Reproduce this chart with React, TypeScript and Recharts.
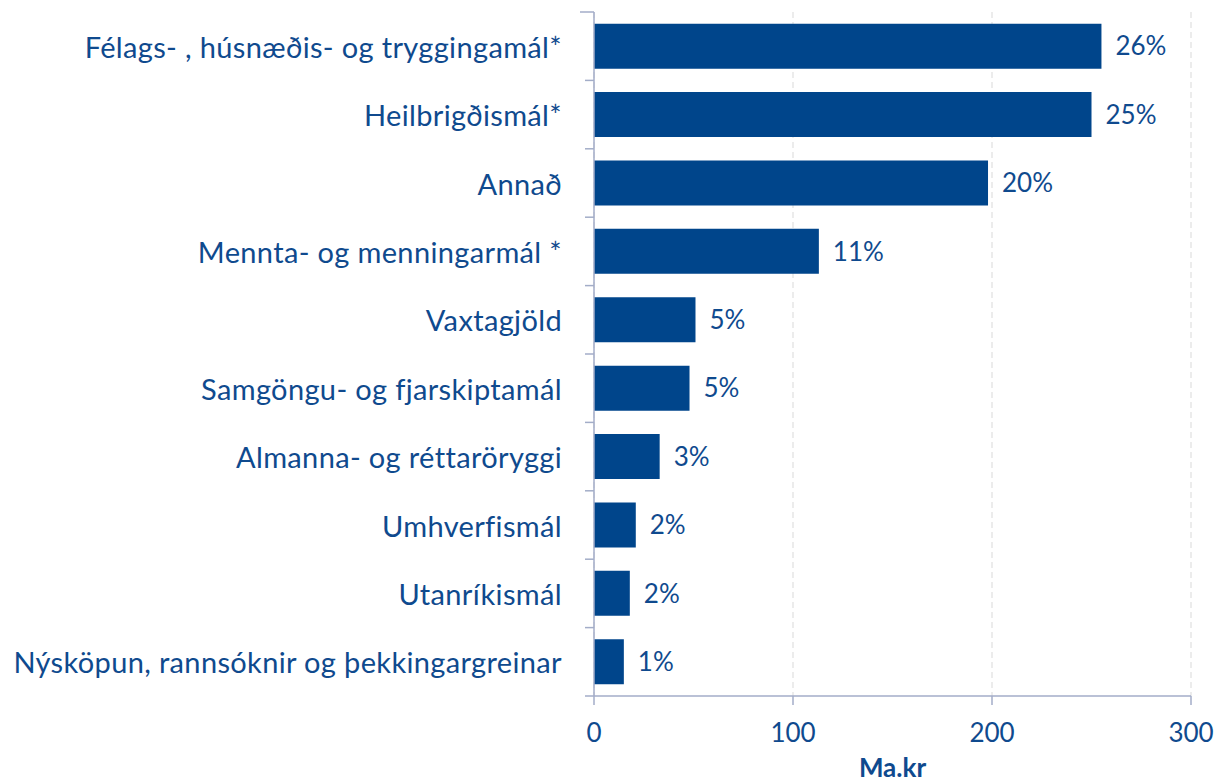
import React from "react";
import { BarChart, Bar, XAxis, YAxis, CartesianGrid, LabelList, Label } from "recharts";

const categories = [
  "Félags- , húsnæðis- og tryggingamál*",
  "Heilbrigðismál*",
  "Annað",
  "Mennta- og menningarmál *",
  "Vaxtagjöld",
  "Samgöngu- og fjarskiptamál",
  "Almanna- og réttaröryggi",
  "Umhverfismál",
  "Utanríkismál",
  "Nýsköpun, rannsóknir og þekkingargreinar",
];
const values = [255, 250, 198, 113, 51, 48, 33, 21, 18, 15];
const shares = [26, 25, 20, 11, 5, 5, 3, 2, 2, 1];
const xTicks = [0, 100, 200, 300];
const axisTitle = "Ma.kr";

const data = categories.map((name, i) => ({ name, value: values[i], share: shares[i] }));

const TEXT = "#0f4a8e";
const BAR = "#00458b";
const AXIS = "#a3adc8";
const FONT = "Lato, 'Liberation Sans', sans-serif";
const FS = 26;
const CAT_FS = 29;

const TOP = 12;
const BOTTOM_AXIS = 696;
const BAND = (BOTTOM_AXIS - TOP) / categories.length;
const TICK_MARGIN = 32;

const YTick = (props: any) => {
  const { x, y, payload, index } = props;
  const axisX = x + TICK_MARGIN;
  return (
    <g>
      <text
        x={x}
        y={y}
        textAnchor="end"
        dominantBaseline="central"
        fill={TEXT}
        fontSize={CAT_FS}
        fontFamily={FONT}
        letterSpacing={0.35}
      >
        {payload.value}
      </text>
      <line x1={axisX - 9} x2={axisX} y1={y + BAND / 2} y2={y + BAND / 2} stroke={AXIS} strokeWidth={1.5} />
      {index === 0 && (
        <line x1={axisX - 14} x2={axisX} y1={y - BAND / 2} y2={y - BAND / 2} stroke={AXIS} strokeWidth={1.5} />
      )}
    </g>
  );
};

const AxisTitle = (props: any) => {
  const vb = props.viewBox || {};
  return (
    <text
      x={vb.x + vb.width / 2}
      y={vb.y + vb.height - 7}
      textAnchor="middle"
      fill={TEXT}
      fontSize={FS}
      fontWeight={700}
      fontFamily={FONT}
    >
      {axisTitle}
    </text>
  );
};

export default function App() {
  return (
    <div style={{ position: "absolute", left: 0, top: 0, background: "#fff" }}>
      <BarChart
        width={1214}
        height={784}
        data={data}
        layout="vertical"
        margin={{ top: TOP, right: 23, bottom: 0, left: 0 }}
        barCategoryGap="17%"
      >
        <CartesianGrid horizontal={false} stroke="#d9d9d9" strokeDasharray="6 4" />
        <XAxis
          type="number"
          domain={[0, 300]}
          ticks={xTicks}
          height={88}
          tickSize={9}
          tickMargin={19}
          axisLine={{ stroke: AXIS, strokeWidth: 1.5 }}
          tickLine={{ stroke: AXIS, strokeWidth: 1.5 }}
          tick={{ fill: TEXT, fontSize: FS, fontFamily: FONT }}
          interval={0}
        >
          <Label content={<AxisTitle />} />
        </XAxis>
        <XAxis
          xAxisId="top"
          type="number"
          orientation="top"
          domain={[0, 300]}
          height={0}
          tick={false}
          tickLine={false}
          axisLine={{ stroke: AXIS, strokeWidth: 1.5 }}
        />
        <YAxis
          type="category"
          dataKey="name"
          width={594}
          tickSize={0}
          tickMargin={TICK_MARGIN}
          tickLine={false}
          interval={0}
          axisLine={{ stroke: AXIS, strokeWidth: 1.5 }}
          tick={<YTick />}
        />
        <Bar dataKey="value" fill={BAR} isAnimationActive={false}>
          <LabelList
            dataKey="share"
            position="right"
            offset={14}
            formatter={(v: any) => `${v}%`}
            fill={TEXT}
            fontSize={FS}
            fontFamily={FONT}
          />
        </Bar>
      </BarChart>
    </div>
  );
}
